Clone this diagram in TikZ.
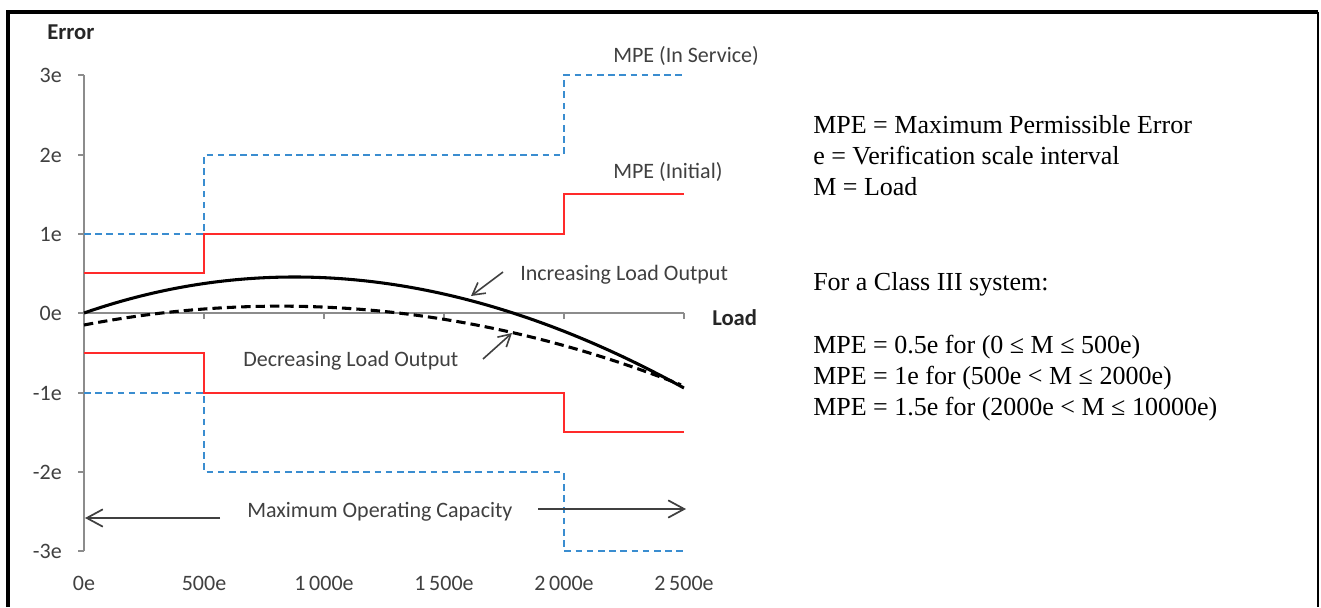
\documentclass[tikz,border=0pt]{standalone}
\usepackage{fontspec}
\setmainfont{Carlito}
\newfontfamily\notefont{Liberation Serif}
\usetikzlibrary{arrows.meta}

\definecolor{axisgrey}{HTML}{8C8C8C}
\definecolor{labelgrey}{HTML}{404040}
\definecolor{limitred}{HTML}{FF2A2A}
\definecolor{limitblue}{HTML}{3A8DD0}

\tikzset{
  axisline/.style={draw=axisgrey, line width=1.5pt},
  ticklabel/.style={font=\fontsize{16.5}{19}\selectfont, text=labelgrey, inner sep=0pt},
  axistitle/.style={font=\fontsize{17}{20}\selectfont\bfseries, text=black!85, inner sep=0pt, anchor=base west},
  chartlabel/.style={font=\fontsize{16.5}{19}\selectfont, text=labelgrey, inner sep=0pt, anchor=base west},
  notetext/.style={font=\notefont\fontsize{19.5}{23}\selectfont, text=black, inner sep=0pt, anchor=base west},
  initial/.style={draw=limitred, line width=1.4pt},
  inservice/.style={draw=limitblue, line width=1.5pt, dash pattern=on 5pt off 3.4pt},
  pointer/.style={draw=labelgrey, line width=1.2pt, -{Straight Barb[length=9pt, width=10pt, line width=1.2pt]}},
  spanarrow/.style={draw=labelgrey, line width=1.3pt, -{Straight Barb[length=12pt, width=13pt, line width=1.3pt]}},
  outputcurve/.style={draw=black, line width=2.3pt},
}

\begin{document}
\begin{tikzpicture}[x=0.75pt, y=-0.75pt]
  \useasboundingbox (0,0) rectangle (1321,607);
  \fill[white] (0,0) rectangle (1321,607);

  % open frame: top, left and right edges
  \draw[line width=2.4pt] (8,607) -- (8,12) -- (1318,12);
  \draw[line width=1.6pt] (1318,12) -- (1318,607);

  % axes
  \draw[axisline] (84,75) -- (84,551);
  \foreach \yy in {75,155,234,313,393,472,551}
    \draw[axisline] (78,\yy) -- (84,\yy);
  \draw[axisline] (84,313) -- (684,313);
  \foreach \xx in {204,324,444,564,684}
    \draw[axisline] (\xx,313) -- (\xx,319);

  % y tick labels
  \node[ticklabel, anchor=base east] (y3)  at (62,82)  {3e};
  \node[ticklabel, anchor=base east] (y2)  at (62,162) {2e};
  \node[ticklabel, anchor=base east] (y1)  at (62,241) {1e};
  \node[ticklabel, anchor=base east] (y0)  at (62,320) {0e};
  \node[ticklabel, anchor=base east] (ym1) at (62,400) {-1e};
  \node[ticklabel, anchor=base east] (ym2) at (62,479) {-2e};
  \node[ticklabel, anchor=base east] (ym3) at (62,558) {-3e};

  % x tick labels
  \node[ticklabel, anchor=base] (x0)    at (84,590)  {0e};
  \node[ticklabel, anchor=base] (x500)  at (204,590) {500e};
  \node[ticklabel, anchor=base] (x1000) at (324,590) {1\,000e};
  \node[ticklabel, anchor=base] (x1500) at (444,590) {1\,500e};
  \node[ticklabel, anchor=base] (x2000) at (564,590) {2\,000e};
  \node[ticklabel, anchor=base] (x2500) at (684,590) {2\,500e};

  % axis titles
  \node[axistitle] (errtitle)  at (47,39)  {Error};
  \node[axistitle] (loadtitle) at (712,325) {Load};

  % MPE in service (dashed blue)
  \draw[inservice] (84,234) -- (204,234) -- (204,155) -- (564,155) -- (564,75) -- (684,75);
  \draw[inservice] (84,393) -- (204,393) -- (204,472) -- (564,472) -- (564,551) -- (684,551);

  % MPE initial (red)
  \draw[initial] (84,273) -- (204,273) -- (204,234) -- (564,234) -- (564,194) -- (684,194);
  \draw[initial] (84,353) -- (204,353) -- (204,393) -- (564,393) -- (564,432) -- (684,432);

  % increasing load output
  \draw[outputcurve] plot[domain=0:6, samples=80, smooth]
    ({84+100*\x}, {313 - \x*(4.29-\x)*(8.108-0.133*\x)});
  % decreasing load output
  \draw[outputcurve, dash pattern=on 7pt off 3.8pt] plot[domain=0:5.97, samples=80, smooth]
    ({84+100*\x}, {313 - (-12 + 19.21*\x - 4.896*\x*\x)});

  % curve labels with pointers
  \node[chartlabel] (inclabel) at (520,280) {Increasing Load Output};
  \node[chartlabel] (declabel) at (243,366) {Decreasing Load Output};
  \coordinate (incfrom) at (503,272);
  \coordinate (incto)   at (471,296);
  \coordinate (decfrom) at (483,359);
  \coordinate (decto)   at (512,333);
  \draw[pointer] (incfrom) -- (incto);
  \draw[pointer] (decfrom) -- (decto);

  % limit labels
  \node[chartlabel] (servlabel) at (613,62)  {MPE (In Service)};
  \node[chartlabel] (initlabel) at (613,178) {MPE (Initial)};

  % maximum operating capacity
  \node[chartlabel] (caplabel) at (247,517) {Maximum Operating Capacity};
  \coordinate (capleft)  at (85,518);
  \coordinate (capright) at (686,509);
  \coordinate (capls)    at (220,518);
  \coordinate (caprs)    at (538,509);
  \draw[spanarrow] (capls) -- (capleft);
  \draw[spanarrow] (caprs) -- (capright);

  % notes
  \node[notetext] (n1) at (813,133) {MPE = Maximum Permissible Error};
  \node[notetext] (n2) at (813,164) {e = Verification scale interval};
  \node[notetext] (n3) at (813,195) {M = Load};
  \node[notetext] (n4) at (813,290) {For a Class III system:};
  \node[notetext] (n5) at (813,353) {MPE = 0.5e for (0 ≤ M ≤ 500e)};
  \node[notetext] (n6) at (813,384) {MPE = 1e for (500e < M ≤ 2000e)};
  \node[notetext] (n7) at (813,415) {MPE = 1.5e for (2000e < M ≤ 10000e)};
\end{tikzpicture}
\end{document}
